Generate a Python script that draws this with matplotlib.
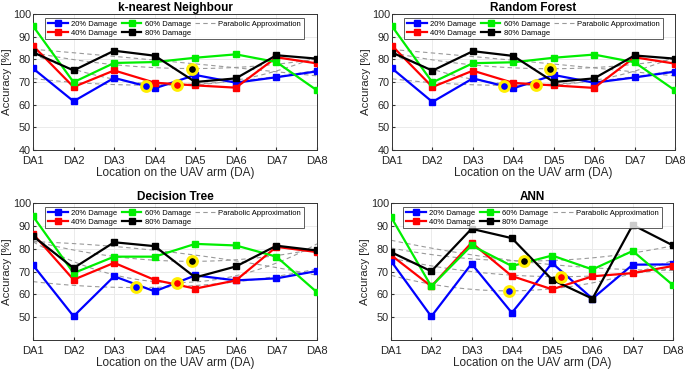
"""Accuracy vs damage location for four classifiers (2x2 panels)."""

import matplotlib

matplotlib.use("Agg")
import numpy as np
from matplotlib import pyplot as plt

locations = ["DA1", "DA2", "DA3", "DA4", "DA5", "DA6", "DA7", "DA8"]
damage_labels = ["20% Damage", "40% Damage", "60% Damage", "80% Damage"]
colors = ["#0000ff", "#ff0000", "#00ee00", "#000000"]

knn_acc = [
    [76.0, 61.5, 71.8, 67.2, 73.1, 69.7, 72.1, 74.7],
    [86.0, 67.8, 75.1, 69.7, 68.5, 67.5, 80.9, 78.2],
    [94.7, 69.9, 78.4, 78.8, 80.7, 82.2, 78.8, 66.3],
    [83.1, 75.1, 83.8, 81.6, 70.0, 71.6, 81.8, 80.3],
]
rf_acc = [
    [76.0, 61.2, 71.6, 67.2, 73.1, 69.7, 72.0, 74.6],
    [86.0, 67.8, 75.0, 69.6, 68.5, 67.4, 80.9, 78.1],
    [94.6, 69.8, 78.3, 78.7, 80.7, 82.1, 78.7, 66.3],
    [83.0, 75.0, 83.6, 81.5, 70.0, 71.6, 81.7, 80.3],
]
dt_acc = [
    [72.8, 50.4, 67.9, 61.3, 68.3, 66.1, 67.0, 70.2],
    [86.5, 66.4, 73.8, 66.3, 62.5, 66.1, 80.8, 78.5],
    [94.2, 69.3, 76.5, 76.5, 82.1, 81.4, 76.5, 60.9],
    [85.5, 71.5, 82.8, 81.1, 67.4, 72.2, 81.3, 79.2],
]
ann_acc = [
    [74.6, 50.3, 73.4, 51.9, 73.7, 58.1, 73.0, 73.1],
    [77.2, 63.5, 82.6, 68.0, 62.2, 67.9, 69.3, 72.4],
    [93.9, 63.5, 81.4, 72.4, 77.0, 70.9, 79.0, 64.0],
    [78.5, 70.1, 88.7, 84.6, 66.4, 58.1, 90.4, 81.4],
]

# highlighted parabola vertices: (x position, accuracy) for 20%, 40%, 80%
knn_vertex = [(3.78, 68.4), (4.55, 68.7), (4.92, 75.7)]
rf_vertex = [(3.78, 68.4), (4.55, 68.6), (4.92, 75.7)]
dt_vertex = [(3.55, 63.1), (4.56, 65.1), (4.92, 74.4)]
ann_vertex = [(3.94, 61.3), (5.22, 67.6), (4.31, 74.4)]
vertex_colors = ["#0000ff", "#ff0000", "#000000"]

panels = [
    ("k-nearest Neighbour", knn_acc, knn_vertex, True),
    ("Random Forest", rf_acc, rf_vertex, True),
    ("Decision Tree", dt_acc, dt_vertex, False),
    ("ANN", ann_acc, ann_vertex, False),
]
axes_boxes = [
    (33, 14, 317, 150),
    (392, 14, 675, 150),
    (33, 203, 317, 340),
    (391, 203, 673, 340),
]

W, H = 685, 372
plt.rcParams["font.family"] = ["Liberation Sans", "DejaVu Sans"]
figure = plt.figure(figsize=(W / 100, H / 100), dpi=100)

x = np.arange(1, len(locations) + 1)
x_fine = np.linspace(1, len(locations), 100)

for (title, acc, vertices, show_40), (l, t, r, b) in zip(panels, axes_boxes):
    axis = figure.add_axes([l / W, 1 - b / H, (r - l) / W, (b - t) / H])
    for values, label, color in zip(acc, damage_labels, colors):
        axis.plot(x, values, color=color, linewidth=1.6, marker="s",
                  markersize=4, label=label, zorder=3)
    for i, values in enumerate(acc):
        coeffs = np.polyfit(x, values, 2)
        axis.plot(x_fine, np.polyval(coeffs, x_fine), color="#9a9a9a",
                  linestyle=(0, (4, 3)), linewidth=0.8, zorder=2,
                  label="Parabolic Approximation" if i == 0 else None)
    for (vx, vy), color in zip(vertices, vertex_colors):
        axis.plot(vx, vy, marker="o", markersize=7, markerfacecolor=color,
                  markeredgecolor="#ffee00", markeredgewidth=2.2, zorder=5)
    axis.set_xlim(1, len(locations))
    axis.set_ylim(40, 100)
    axis.set_xticks(x, locations)
    axis.set_yticks(np.arange(40, 101, 10) if show_40 else np.arange(50, 101, 10))
    axis.grid(True, color="#ebebeb", linewidth=0.7)
    axis.tick_params(length=2, direction="in", color="#333333",
                     labelcolor="#262626")
    axis.tick_params(axis="x", labelsize=8, pad=4.5)
    axis.tick_params(axis="y", labelsize=7.8, pad=1.5)
    for spine in axis.spines.values():
        spine.set_color("#333333")
        spine.set_linewidth(0.7)
    axis.set_title(title, fontsize=8.5, fontweight="bold", pad=2)
    axis.set_xlabel("Location on the UAV arm (DA)", fontsize=8.5, labelpad=0.5,
                    color="#262626")
    axis.set_ylabel("Accuracy [%]", fontsize=8.2, labelpad=0.5, color="#262626")
    handles, labels = axis.get_legend_handles_labels()
    legend = axis.legend(handles, labels, ncol=3, loc="upper left",
                         bbox_to_anchor=(0.03, 1.0), fontsize=5.5,
                         frameon=True, fancybox=False, edgecolor="#333333",
                         borderpad=0.35, labelspacing=0.2, handlelength=2.6,
                         handletextpad=0.4, columnspacing=0.6)
    legend.get_frame().set_linewidth(0.7)

figure.savefig("out.png", dpi=100)
plt.close(figure)
